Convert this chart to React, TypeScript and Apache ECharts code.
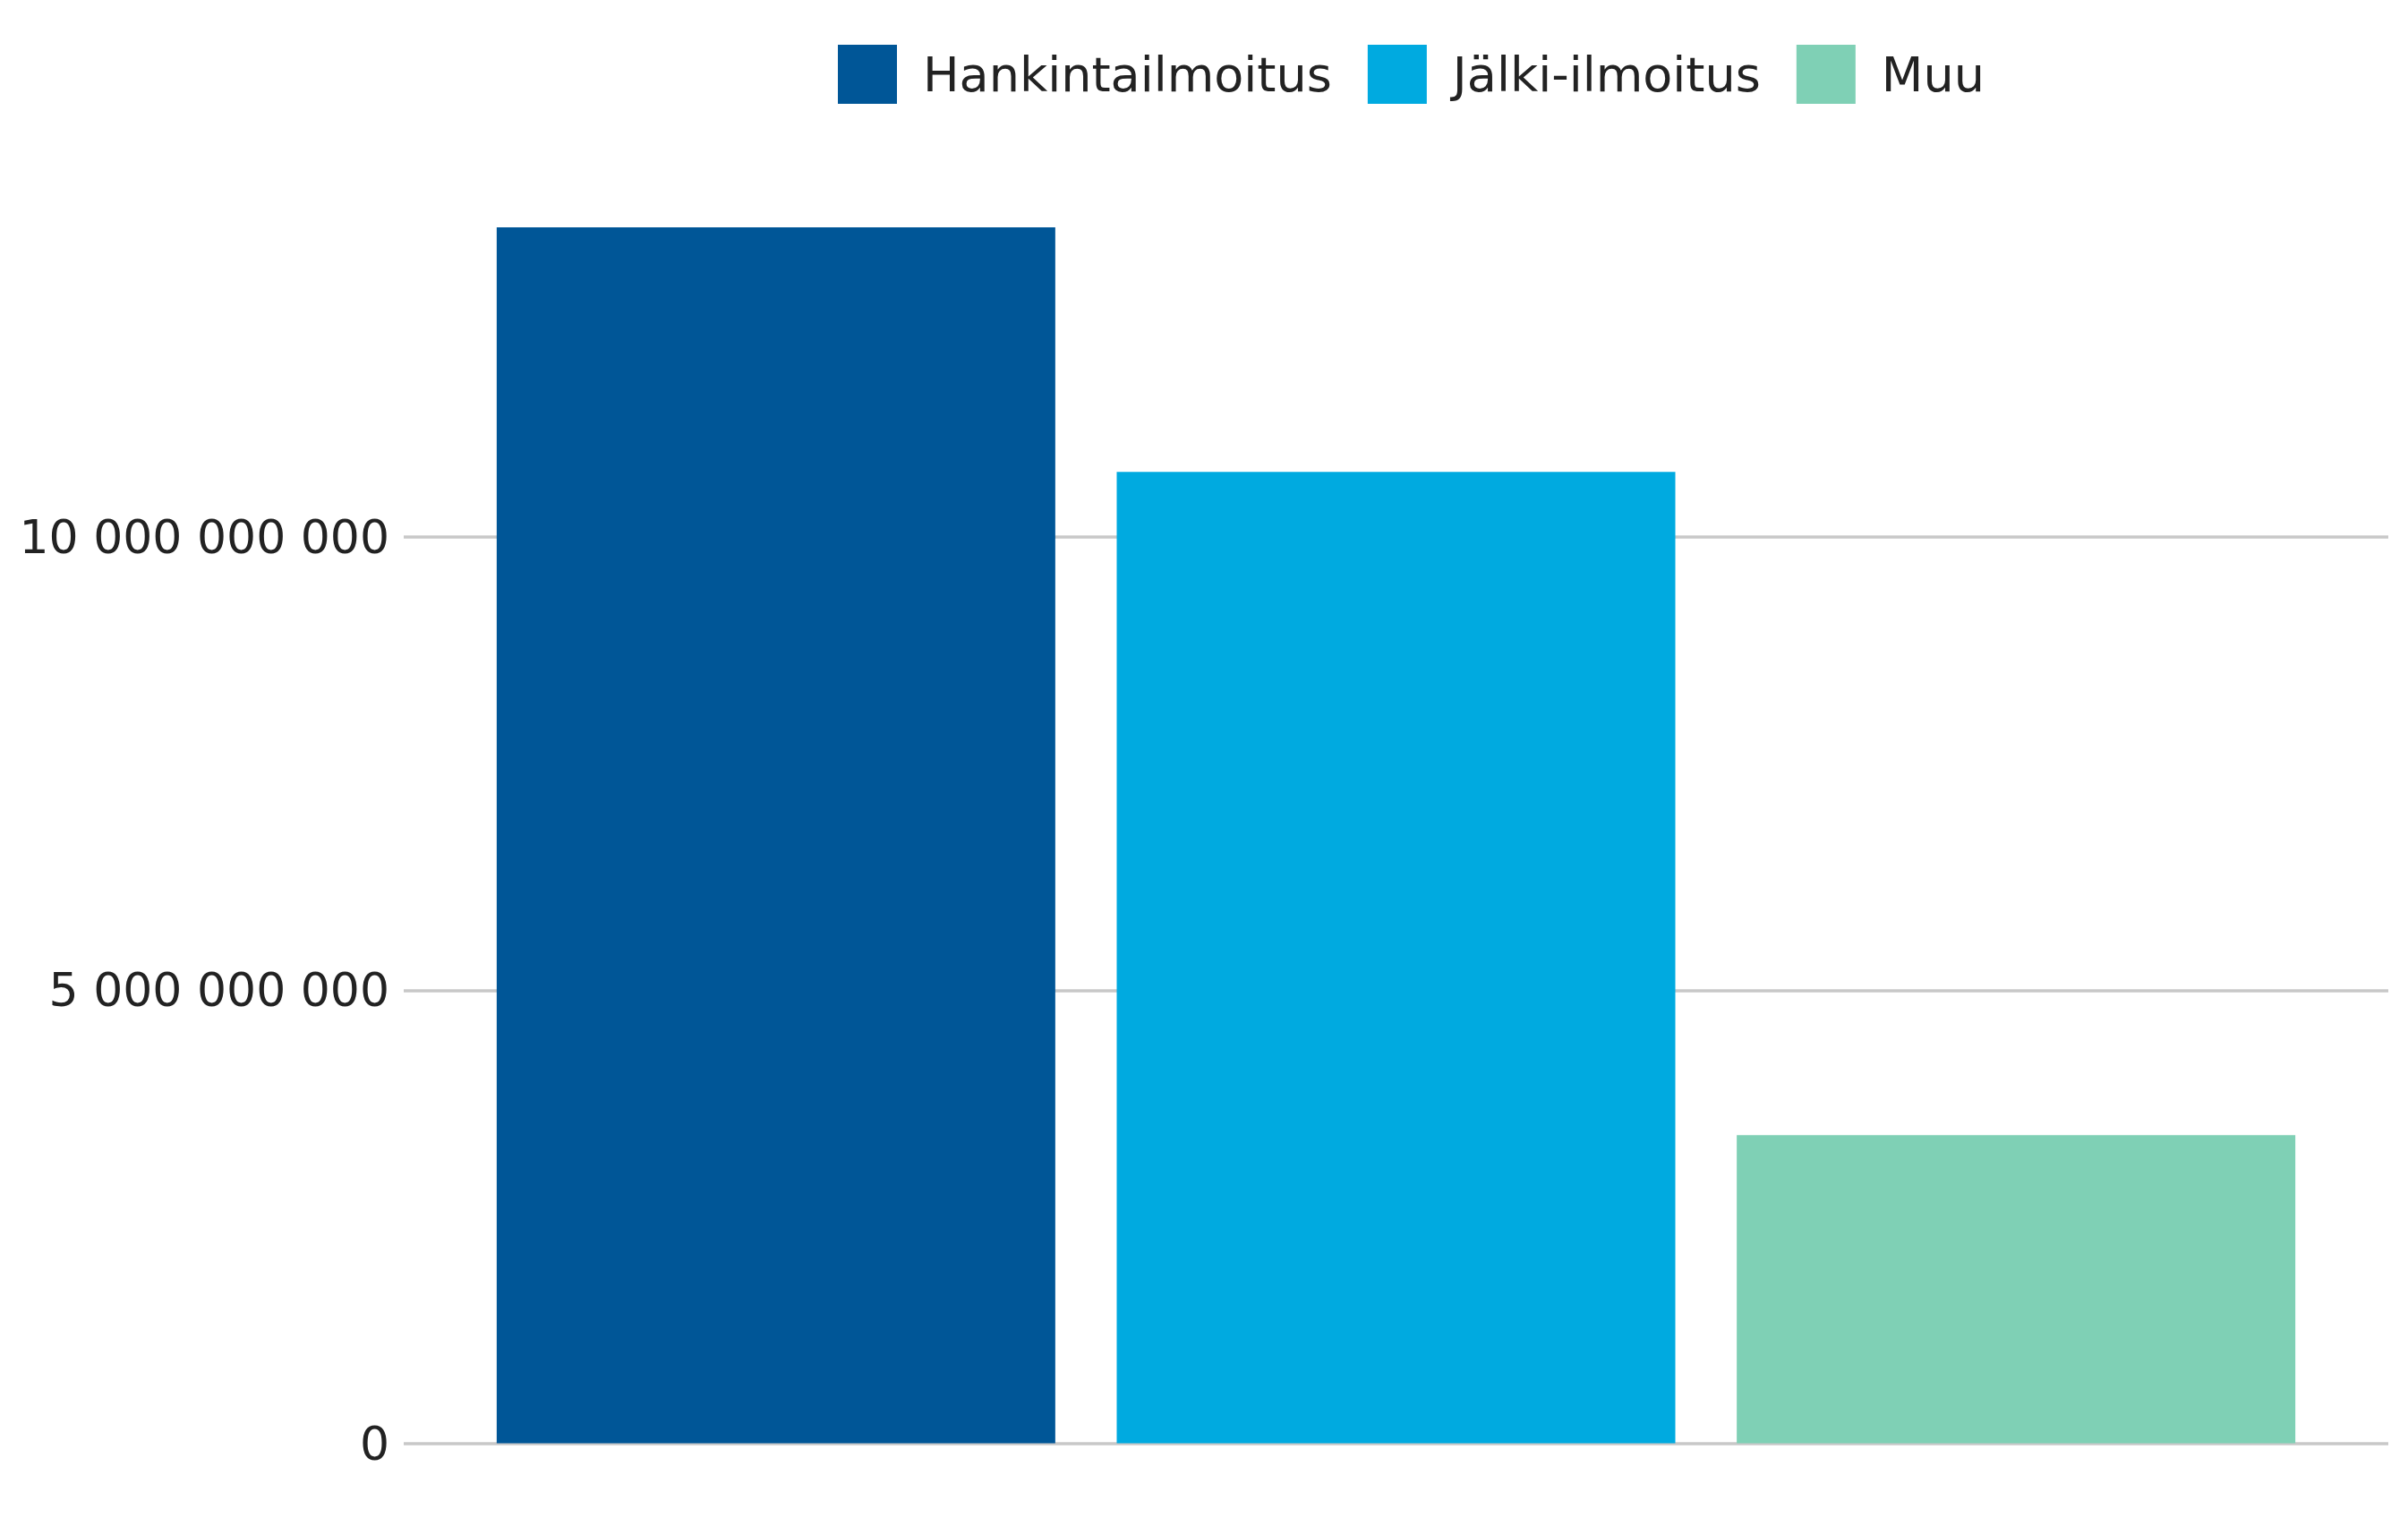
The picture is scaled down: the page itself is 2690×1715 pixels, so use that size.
import React, { useEffect, useRef } from "react";
import * as echarts from "echarts";

const categories = [""];
const seriesNames = ["Hankintailmoitus", "Jälki-ilmoitus", "Muu"];
const hankintaValues = [13420000000];
const jalkiValues = [10720000000];
const muuValues = [3400000000];
const seriesColors = ["#005697", "#00aae0", "#7fd0b5"];
const yTickInterval = 5000000000;

const FONT = "'DejaVu Sans', 'Open Sans', sans-serif";

function fmt(v: number): string {
  return String(Math.round(v)).replace(/\B(?=(\d{3})+(?!\d))/g, " ");
}

export default function App() {
  const ref = useRef<HTMLDivElement>(null);
  useEffect(() => {
    if (!ref.current) return;
    const chart = echarts.init(ref.current, undefined, { renderer: "svg" });
    const allValues = [...hankintaValues, ...jalkiValues, ...muuValues];
    const yMax = Math.max(...allValues);
    const dataSets = [hankintaValues, jalkiValues, muuValues];
    chart.setOption({
      animation: false,
      backgroundColor: "#ffffff",
      textStyle: { fontFamily: FONT },
      legend: {
        left: 931,
        top: 45,
        itemWidth: 66,
        itemHeight: 66,
        itemGap: 40,
        icon: "rect",
        data: seriesNames,
        textStyle: {
          fontFamily: FONT,
          fontSize: 54,
          color: "#222222",
          padding: [0, 0, 0, 24],
        },
      },
      grid: {
        left: 451,
        right: 22,
        top: 254,
        bottom: 102.5,
        containLabel: false,
      },
      xAxis: {
        type: "category",
        data: categories,
        axisLine: { show: false },
        axisTick: { show: false },
        axisLabel: { show: false },
        splitLine: { show: false },
      },
      yAxis: {
        type: "value",
        min: 0,
        max: yMax,
        interval: yTickInterval,
        axisLine: { show: false },
        axisTick: { show: false },
        axisLabel: {
          show: true,
          showMaxLabel: false,
          margin: 16,
          fontFamily: FONT,
          fontSize: 52,
          color: "#222222",
          formatter: (v: number) => fmt(v),
        },
        splitLine: {
          show: true,
          lineStyle: {
            color: ["#c8c8c8", "#c8c8c8", "#c8c8c8", "rgba(0,0,0,0)"],
            width: 3.5,
          },
        },
      },
      series: seriesNames.map((name, i) => ({
        name,
        type: "bar",
        data: dataSets[i],
        barWidth: 624,
        barGap: "11%",
        itemStyle: { color: seriesColors[i] },
      })),
    });
    return () => chart.dispose();
  }, []);
  return (
    <div
      ref={ref}
      style={{ position: "fixed", left: 0, top: 0, width: "2690px", height: "1715px", background: "#fff" }}
    />
  );
}
